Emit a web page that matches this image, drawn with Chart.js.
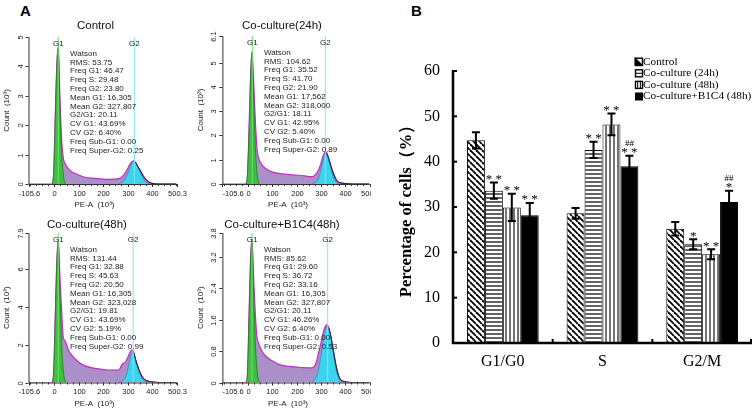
<!DOCTYPE html>
<html>
<head>
<meta charset="utf-8">
<title>Cell cycle distribution</title>
<script src="https://cdn.jsdelivr.net/npm/chart.js@4.4.1/dist/chart.umd.min.js"></script>
<style>
    body { margin: 0; background: #fff; }
    #page { position: relative; width: 753px; height: 411px; overflow: hidden; background: #fff; }
    #page canvas { position: absolute; }
    .panel-tag { position: absolute; font: bold 15px 'Liberation Sans', Arial, sans-serif; color: #000; }
</style>
</head>
<body>
<div id="page">
    <div class="panel-tag" style="left:20px;top:2px">A</div>
    <div class="panel-tag" style="left:411px;top:2px">B</div>
    <canvas id="hist0" width="190" height="215" style="left:0;top:0"></canvas>
    <canvas id="hist1" width="181" height="215" style="left:190px;top:0"></canvas>
    <canvas id="hist2" width="190" height="206" style="left:0;top:205px"></canvas>
    <canvas id="hist3" width="181" height="206" style="left:190px;top:205px"></canvas>
    <canvas id="bars" width="373" height="411" style="left:380px;top:0"></canvas>
</div>
<script>
var SANS = "'Liberation Sans', Arial, sans-serif";
var SERIF = "'Liberation Serif', 'Times New Roman', serif";

// ---- panel A : DNA histograms (PE-A and counts in 10^3) ----
var histTitles = ['Control', 'Co-culture(24h)', 'Co-culture(48h)', 'Co-culture+B1C4(48h)'];
var peTicks = [-105.6, 0, 100, 200, 300, 400, 500.3];
var peX = [-105.6, -10, -4, 4, 10, 16, 23, 30, 37, 44, 57, 71, 99, 126, 167, 222, 263, 280, 290, 300, 310, 318, 325, 332, 340, 352, 366, 380, 400, 430, 500.3];
var countControl = [0, 0, 0.1, 2.3, 4.0, 4.67, 2.97, 1.5, 0.87, 0.70, 0.53, 0.42, 0.31, 0.23, 0.19, 0.16, 0.18, 0.27, 0.38, 0.52, 0.68, 0.76, 0.79, 0.74, 0.62, 0.46, 0.25, 0.11, 0.02, 0, 0];
var countCo24 = [0, 0, 0.1, 2.2, 4.3, 5.45, 4.2, 2.6, 1.45, 1.05, 0.79, 0.65, 0.5, 0.44, 0.39, 0.35, 0.30, 0.42, 0.58, 0.85, 1.2, 1.32, 1.25, 1.05, 0.78, 0.42, 0.13, 0.05, 0.02, 0, 0];
var countCo48 = [0, 0, 0.15, 3.5, 6.3, 7.5, 5.56, 3.79, 2.37, 2.2, 1.75, 1.45, 1.08, 0.88, 0.75, 0.66, 0.65, 1.0, 1.05, 1.3, 1.6, 1.72, 1.6, 1.25, 0.92, 0.5, 0.2, 0.09, 0.03, 0, 0];
var countB1C4 = [0, 0, 0.05, 1.7, 3.1, 3.65, 2.66, 1.73, 1.14, 0.98, 0.8, 0.68, 0.55, 0.46, 0.41, 0.38, 0.37, 0.5, 0.75, 1.0, 1.28, 1.42, 1.47, 1.4, 1.2, 0.78, 0.32, 0.08, 0.02, 0, 0];

var g1X = [-8, -2, 4, 10, 16, 22, 28, 34, 40, 46];
var g1Control = [0, 0.5, 2.2, 3.9, 4.6, 2.9, 1.4, 0.6, 0.15, 0];
var g1Co24 = [0, 0.5, 2.1, 4.2, 5.4, 3.9, 2.0, 0.8, 0.2, 0];
var g1Co48 = [0, 0.8, 3.4, 6.2, 7.4, 5.2, 2.8, 1.1, 0.3, 0];
var g1B1C4 = [0, 0.3, 1.6, 3.0, 3.6, 2.5, 1.3, 0.55, 0.15, 0];

var g2X = [262, 275, 285, 295, 305, 315, 325, 335, 345, 355, 365, 378, 392];
var g2Control = [0, 0.05, 0.12, 0.25, 0.45, 0.66, 0.77, 0.72, 0.52, 0.32, 0.16, 0.05, 0];
var g2Co24 = [0, 0.06, 0.15, 0.38, 0.8, 1.2, 1.18, 0.85, 0.48, 0.18, 0.05, 0.01, 0];
var g2Co48 = [0, 0.05, 0.15, 0.4, 0.95, 1.5, 1.55, 1.05, 0.62, 0.3, 0.1, 0.02, 0];
var g2B1C4 = [0, 0.08, 0.2, 0.5, 0.9, 1.25, 1.42, 1.3, 0.98, 0.6, 0.26, 0.06, 0];

var yTicksControl = [0, 1, 2, 3, 4, 5];
var yTicksCo24 = [0, 1, 2, 3, 4, 5, 6.1];
var yTicksCo48 = [0, 2, 4, 6, 7.9];
var yTicksB1C4 = [0, 0.8, 1.6, 2.4, 3.2, 3.8];

// Watson model read-outs
var rms = ['53.75', '104.62', '131.44', '85.62'];
var freqG1 = ['46.47', '35.52', '32.88', '29.60'];
var freqS = ['29.48', '41.70', '45.63', '36.72'];
var freqG2 = ['23.80', '21.90', '20.50', '33.16'];
var meanG1 = ['16,305', '17,562', '16,305', '16,305'];
var meanG2 = ['327,807', '318,000', '323,028', '327,807'];
var ratioG2G1 = ['20.11', '18.11', '19.81', '20.11'];
var cvG1 = ['43.69%', '42.95%', '43.69%', '46.26%'];
var cvG2 = ['6.40%', '5.40%', '5.19%', '6.40%'];
var freqSubG1 = ['0.00', '0.00', '0.00', '0.00'];
var freqSuperG2 = ['0.25', '0.89', '0.99', '0.53'];

// ---- panel B : percentage of cells per phase ----
var phases = ['G1/G0', 'S', 'G2/M'];
var seriesNames = ['Control', 'Co-culture (24h)', 'Co-culture (48h)', 'Co-culture+B1C4 (48h)'];
var pctControl = [44.7, 28.6, 25.2];
var pctCo24 = [33.6, 42.6, 21.8];
var pctCo48 = [29.9, 48.2, 19.6];
var pctB1C4 = [28.2, 39.0, 31.1];
var sdControl = [1.8, 1.2, 1.5];
var sdCo24 = [1.8, 1.8, 1.1];
var sdCo48 = [3.0, 2.4, 1.1];
var sdB1C4 = [2.7, 2.3, 2.5];
var starsControl = ['', '', ''];
var starsCo24 = ['**', '**', '*'];
var starsCo48 = ['**', '**', '**'];
var starsB1C4 = ['**', '**', '*'];
var hashB1C4 = ['', '##', '##'];
var pctTicks = [0, 10, 20, 30, 40, 50, 60];

var histCounts = [countControl, countCo24, countCo48, countB1C4];
var histG1 = [g1Control, g1Co24, g1Co48, g1B1C4];
var histG2 = [g2Control, g2Co24, g2Co48, g2B1C4];
var histYTicks = [yTicksControl, yTicksCo24, yTicksCo48, yTicksB1C4];

// where each histogram sits inside its canvas
var histLayout = [
    { pad: {left: 28.5, top: 37, right: 13.5, bottom: 31}, titleX: 95.5, titleY: 26, firstTick: 'center' },
    { pad: {left: 32.4, top: 36, right: 1.4, bottom: 31}, titleX: 92, titleY: 26, firstTick: 'left' },
    { pad: {left: 28.5, top: 28, right: 13.5, bottom: 28.5}, titleX: 87, titleY: 20, firstTick: 'center' },
    { pad: {left: 32.4, top: 28, right: 1.4, bottom: 28.5}, titleX: 92, titleY: 20, firstTick: 'left' }
];

function toPoints(xs, ys) {
    return xs.map(function (x, i) { return {x: x, y: ys[i]}; });
}

function thousands(s) {
    return parseFloat(s.replace(',', '.'));
}

var histDecor = {
    id: 'histDecor',
    afterDatasetsDraw: function (chart, args, opt) {
        var ctx = chart.ctx, a = chart.chartArea;
        var xs = chart.scales.x, ys = chart.scales.y;
        ctx.save();

        // G1 / G2 markers
        var marks = [[opt.g1, '#6fe06f', 'G1'], [opt.g2, '#80e8f4', 'G2']];
        ctx.lineWidth = 1;
        marks.forEach(function (m) {
            var px = xs.getPixelForValue(m[0]);
            ctx.strokeStyle = m[1];
            ctx.beginPath();
            ctx.moveTo(px, a.top);
            ctx.lineTo(px, a.bottom);
            ctx.stroke();
        });
        ctx.fillStyle = '#222';
        ctx.font = '8px ' + SANS;
        ctx.textAlign = 'center';
        ctx.textBaseline = 'middle';
        marks.forEach(function (m) {
            ctx.fillText(m[2], xs.getPixelForValue(m[0]), a.top + 6.5);
        });

        // model summary
        ctx.textAlign = 'left';
        ctx.font = '8px ' + SANS;
        opt.lines.forEach(function (t, k) {
            ctx.fillText(t, a.left + 41.5, a.top + 16.5 + k * 8.8);
        });

        // axes
        ctx.strokeStyle = '#333';
        ctx.beginPath();
        ctx.moveTo(a.left + 0.5, a.top);
        ctx.lineTo(a.left + 0.5, a.bottom + 0.5);
        ctx.lineTo(a.right, a.bottom + 0.5);
        ctx.stroke();

        ctx.font = '7.5px ' + SANS;
        ctx.textAlign = 'center';
        opt.yTicks.forEach(function (v) {
            var py = Math.round(ys.getPixelForValue(v)) + 0.5;
            ctx.beginPath();
            ctx.moveTo(a.left - 3, py);
            ctx.lineTo(a.left, py);
            ctx.stroke();
            ctx.save();
            ctx.translate(a.left - 8, py);
            ctx.rotate(-Math.PI / 2);
            ctx.fillText(String(v), 0, 0);
            ctx.restore();
        });

        for (var v = -100; v <= 500; v += 25) {
            var mx = Math.round(xs.getPixelForValue(v)) + 0.5;
            ctx.beginPath();
            ctx.moveTo(mx, a.bottom);
            ctx.lineTo(mx, a.bottom + 2);
            ctx.stroke();
        }
        peTicks.forEach(function (v, i) {
            var px = Math.round(xs.getPixelForValue(v)) + 0.5;
            ctx.beginPath();
            ctx.moveTo(px, a.bottom);
            ctx.lineTo(px, a.bottom + 3);
            ctx.stroke();
            ctx.textAlign = (i === 0 && opt.firstTick === 'left') ? 'left' : 'center';
            ctx.fillText(String(v), px, a.bottom + 9.5);
        });

        ctx.textAlign = 'center';
        ctx.font = '8px ' + SANS;
        ctx.fillText('PE-A  (10\u00b3)', (a.left + a.right) / 2 - 8, a.bottom + 21);
        ctx.save();
        ctx.translate(a.left - 21.5, (a.top + a.bottom) / 2);
        ctx.rotate(-Math.PI / 2);
        ctx.fillText('Count  (10\u00b3)', 0, 0);
        ctx.restore();

        ctx.font = '11.5px ' + SANS;
        ctx.fillStyle = '#111';
        ctx.fillText(opt.title, opt.titleX, opt.titleY);
        ctx.restore();
    }
};

function makeHist(k) {
    var L = histLayout[k];
    var yt = histYTicks[k];
    var total = toPoints(peX, histCounts[k]);
    var g2Mean = thousands(meanG2[k]);
    return new Chart(document.getElementById('hist' + k), {
        type: 'line',
        data: {
            datasets: [
                { data: total, order: 3, fill: 'origin', backgroundColor: '#ab8fc9', borderColor: '#c42bc4', borderWidth: 1.2 },
                { data: toPoints(g1X, histG1[k]), order: 2, fill: 'origin', backgroundColor: '#3fbf3f', borderColor: '#1f7a1f', borderWidth: 0.8 },
                { data: toPoints(g2X, histG2[k]), order: 1, fill: 'origin', backgroundColor: '#3cd3ec', borderColor: '#2a8fc0', borderWidth: 0.8 },
                { data: total.filter(function (p) { return p.x >= g2Mean; }), order: 0, fill: false, borderColor: '#222', borderWidth: 1 }
            ]
        },
        options: {
            responsive: false,
            animation: false,
            devicePixelRatio: 1,
            layout: { padding: L.pad },
            elements: { point: { radius: 0 }, line: { cubicInterpolationMode: 'monotone' } },
            scales: {
                x: { type: 'linear', min: peTicks[0], max: peTicks[peTicks.length - 1], display: false },
                y: { min: 0, max: yt[yt.length - 1], display: false }
            },
            plugins: {
                legend: { display: false },
                tooltip: { enabled: false },
                histDecor: {
                    title: histTitles[k],
                    titleX: L.titleX,
                    titleY: L.titleY,
                    firstTick: L.firstTick,
                    yTicks: yt,
                    g1: thousands(meanG1[k]),
                    g2: g2Mean,
                    lines: [
                        'Watson',
                        'RMS: ' + rms[k],
                        'Freq G1: ' + freqG1[k],
                        'Freq S: ' + freqS[k],
                        'Freq G2: ' + freqG2[k],
                        'Mean G1: ' + meanG1[k],
                        'Mean G2: ' + meanG2[k],
                        'G2/G1: ' + ratioG2G1[k],
                        'CV G1: ' + cvG1[k],
                        'CV G2: ' + cvG2[k],
                        'Freq Sub-G1: ' + freqSubG1[k],
                        'Freq Super-G2: ' + freqSuperG2[k]
                    ]
                }
            }
        },
        plugins: [histDecor]
    });
}

for (var h = 0; h < 4; h++) {
    makeHist(h);
}

// ---- panel B ----
var seriesFill = ['diag', 'horiz', 'vert', 'solid'];

function makePattern(kind) {
    if (kind === 'solid') return '#000';
    var c = document.createElement('canvas');
    var s = kind === 'diag' ? 6 : 4;
    c.width = s;
    c.height = s;
    var g = c.getContext('2d');
    g.fillStyle = '#fff';
    g.fillRect(0, 0, s, s);
    g.strokeStyle = '#000';
    if (kind === 'diag') {
        g.lineWidth = 1.8;
        [-s, 0, s].forEach(function (o) {
            g.beginPath();
            g.moveTo(o, 0);
            g.lineTo(o + s, s);
            g.stroke();
        });
    } else if (kind === 'horiz') {
        g.lineWidth = 1.4;
        g.strokeStyle = '#222';
        g.beginPath();
        g.moveTo(0, 2);
        g.lineTo(s, 2);
        g.stroke();
    } else {
        g.lineWidth = 1.1;
        g.beginPath();
        g.moveTo(2, 0);
        g.lineTo(2, s);
        g.stroke();
    }
    return g.createPattern(c, 'repeat');
}

function drawLegendIcon(ctx, kind, x, y, s) {
    ctx.fillStyle = '#fff';
    ctx.fillRect(x, y, s, s);
    ctx.fillStyle = '#000';
    ctx.strokeStyle = '#000';
    ctx.lineWidth = 1;
    if (kind === 'solid') {
        ctx.fillRect(x, y, s, s);
        return;
    }
    ctx.beginPath();
    if (kind === 'diag') {
        ctx.moveTo(x, y);
        ctx.lineTo(x + s, y + s);
        ctx.lineTo(x, y + s);
        ctx.closePath();
        ctx.fill();
    } else if (kind === 'horiz') {
        ctx.moveTo(x, y + s / 2);
        ctx.lineTo(x + s, y + s / 2);
    } else {
        ctx.moveTo(x + s / 3, y);
        ctx.lineTo(x + s / 3, y + s);
        ctx.moveTo(x + 2 * s / 3, y);
        ctx.lineTo(x + 2 * s / 3, y + s);
    }
    ctx.stroke();
    ctx.lineWidth = 1.4;
    ctx.strokeRect(x + 0.5, y + 0.5, s - 1, s - 1);
}

var pctSeries = [pctControl, pctCo24, pctCo48, pctB1C4];
var sdSeries = [sdControl, sdCo24, sdCo48, sdB1C4];
var starSeries = [starsControl, starsCo24, starsCo48, starsB1C4];
var hashSeries = [['', '', ''], ['', '', ''], ['', '', ''], hashB1C4];

var barDecor = {
    id: 'barDecor',
    afterDatasetsDraw: function (chart) {
        var ctx = chart.ctx, a = chart.chartArea;
        var xs = chart.scales.x, ys = chart.scales.y;
        ctx.save();
        ctx.strokeStyle = '#000';
        ctx.fillStyle = '#000';

        // error bars + significance marks
        chart.data.datasets.forEach(function (ds, i) {
            var meta = chart.getDatasetMeta(i);
            meta.data.forEach(function (bar, j) {
                var v = pctSeries[i][j], sd = sdSeries[i][j];
                var yt = ys.getPixelForValue(v + sd), yb = ys.getPixelForValue(v - sd);
                ctx.lineWidth = 2;
                ctx.beginPath();
                ctx.moveTo(bar.x, yt);
                ctx.lineTo(bar.x, yb);
                ctx.moveTo(bar.x - 4, yt);
                ctx.lineTo(bar.x + 4, yt);
                ctx.moveTo(bar.x - 4, yb);
                ctx.lineTo(bar.x + 4, yb);
                ctx.stroke();

                ctx.textAlign = 'center';
                ctx.textBaseline = 'alphabetic';
                var star = starSeries[i][j];
                if (star) {
                    ctx.font = '13px ' + SERIF;
                    ctx.fillText(star.split('').join(' '), bar.x, yt + 0.5);
                }
                var hash = hashSeries[i][j];
                if (hash) {
                    ctx.font = '9px ' + SERIF;
                    ctx.fillText(hash, bar.x, yt - 10);
                }
            });
        });

        // axis lines with inward ticks
        ctx.lineWidth = 2.5;
        ctx.beginPath();
        ctx.moveTo(a.left, a.top - 1);
        ctx.lineTo(a.left, a.bottom);
        ctx.lineTo(a.right, a.bottom);
        ctx.stroke();
        ctx.lineWidth = 2;
        pctTicks.forEach(function (t) {
            var py = ys.getPixelForValue(t);
            ctx.beginPath();
            ctx.moveTo(a.left, py);
            ctx.lineTo(a.left + 4, py);
            ctx.stroke();
        });
        for (var k = 0; k < phases.length; k++) {
            var px = Math.min(xs.getPixelForValue(k + 0.5), a.right - 1);
            ctx.beginPath();
            ctx.moveTo(px, a.bottom);
            ctx.lineTo(px, a.bottom - 4);
            ctx.stroke();
        }

        // legend
        ctx.font = '11.3px ' + SERIF;
        ctx.textAlign = 'left';
        ctx.textBaseline = 'middle';
        seriesNames.forEach(function (name, i) {
            var cy = 61.7 + i * 11.6;
            drawLegendIcon(ctx, seriesFill[i], 255, cy - 4, 8);
            ctx.fillStyle = '#000';
            ctx.fillText(name, 263, cy);
        });
        ctx.restore();
    }
};

new Chart(document.getElementById('bars'), {
    type: 'bar',
    data: {
        labels: phases,
        datasets: seriesNames.map(function (name, i) {
            return {
                label: name,
                data: pctSeries[i],
                backgroundColor: makePattern(seriesFill[i]),
                borderColor: '#000',
                borderWidth: 1
            };
        })
    },
    options: {
        responsive: false,
        animation: false,
        devicePixelRatio: 1,
        layout: { padding: { left: 0, top: 71, right: 1, bottom: 0 } },
        datasets: { bar: { categoryPercentage: 0.72, barPercentage: 1 } },
        scales: {
            x: {
                grid: { display: false, drawTicks: false },
                border: { display: false },
                ticks: { color: '#000', padding: 9, font: { family: SERIF, size: 16 } },
                afterFit: function (s) { s.height = 68; }
            },
            y: {
                min: 0,
                max: 60,
                grid: { display: false, drawTicks: false },
                border: { display: false },
                ticks: { stepSize: 10, color: '#000', padding: 13, font: { family: SERIF, size: 16 } },
                title: {
                    display: true,
                    text: 'Percentage of cells\uff08%\uff09',
                    color: '#000',
                    padding: { top: 17, bottom: 0 },
                    font: { family: SERIF, size: 16.5, weight: 'bold' }
                },
                afterFit: function (s) { s.width = 73; }
            }
        },
        plugins: { legend: { display: false }, tooltip: { enabled: false } }
    },
    plugins: [barDecor]
});
</script>
</body>
</html>
